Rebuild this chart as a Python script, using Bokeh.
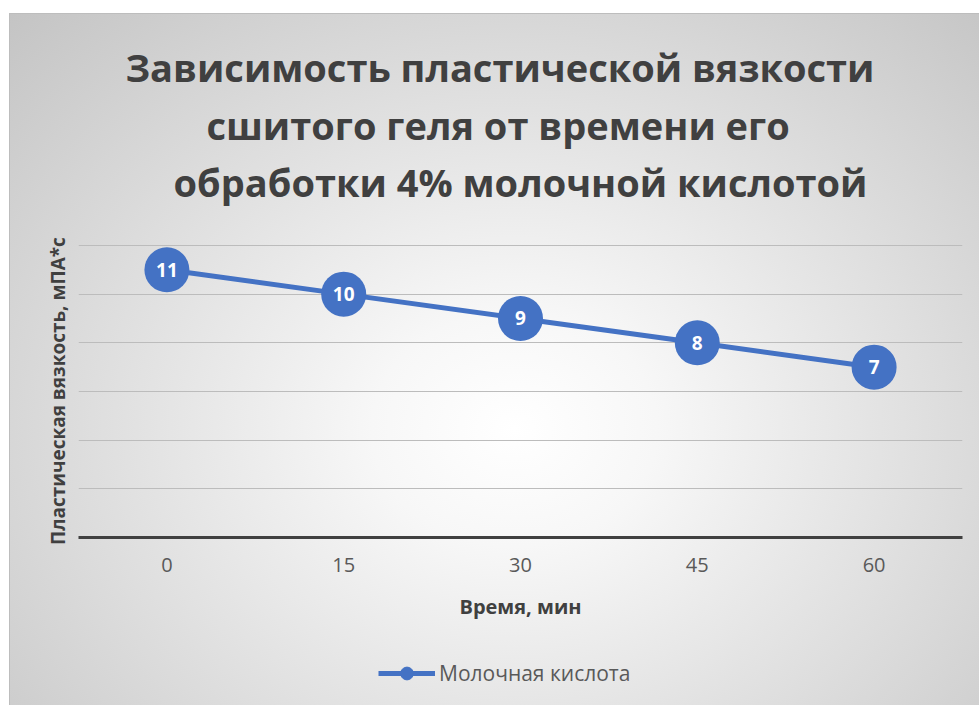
from bokeh.plotting import figure
from bokeh.layouts import column
from bokeh.models import (Range1d, FixedTicker, Title, Legend, LegendItem,
                          ColumnDataSource, LinearAxis)
from bokeh.core.properties import value
from bokeh.embed import file_html
from bokeh.resources import INLINE

# Processing time (min) and plastic viscosity (mPa*s)
minutes = [0, 15, 30, 45, 60]
viscosity = [11, 10, 9, 8, 7]
series_name = "Молочная кислота"
title_lines = [
    "Зависимость пластической вязкости",
    "сшитого геля от времени его",
    "обработки 4% молочной кислотой",
]
title_offsets = [47, 128]   # left indent of the upper title lines, px
x_title = "Время, мин"
y_title = "Пластическая вязкость, мПА*с"
grid_ticks = [0, 2, 4, 6, 8, 10, 12]

BLUE = "#4472C4"
DARK = "#404040"
FONT = "Open Sans"

src = ColumnDataSource(dict(x=minutes, y=viscosity,
                            lbl=[str(v) for v in viscosity]))

# half a step of padding on both sides, like category slots
x_range = Range1d(-7.5, 67.5)
y_range = Range1d(0, 12.04)

p = figure(
    width=970, height=627,
    x_range=x_range, y_range=y_range,
    output_backend="svg", toolbar_location=None, title_location=None,
    min_border_left=68, min_border_right=18,
    min_border_top=230, min_border_bottom=104,
    margin=0,
)
p.border_fill_alpha = 0
p.background_fill_alpha = 0
p.outline_line_color = None

# X axis (bottom)
xa = p.below[0]
xa.ticker = FixedTicker(ticks=minutes)
xa.axis_line_color = DARK
xa.axis_line_width = 3
xa.major_tick_line_color = None
xa.minor_tick_line_color = None
xa.major_label_text_font = FONT
xa.major_label_text_font_size = "20px"
xa.major_label_text_color = "#595959"
xa.major_label_standoff = 14
xa.axis_label = x_title
xa.axis_label_text_font = FONT
xa.axis_label_text_font_size = "20px"
xa.axis_label_text_font_style = "bold"
xa.axis_label_text_color = DARK
xa.axis_label_standoff = 18

# Y axis: title only
ya = p.left[0]
ya.ticker = FixedTicker(ticks=[])
ya.axis_line_color = None
ya.major_tick_line_color = None
ya.minor_tick_line_color = None
ya.major_tick_out = 0
ya.major_label_standoff = 0
ya.axis_label = y_title
ya.axis_label_text_font = FONT
ya.axis_label_text_font_size = "19px"
ya.axis_label_text_font_style = "bold"
ya.axis_label_text_color = DARK
ya.axis_label_standoff = 8

# Last title line: carried by a bare top axis, so that it keeps a gap
# above the plot area
top_axis = LinearAxis(ticker=FixedTicker(ticks=[]),
                      axis_line_color=None, major_tick_line_color=None,
                      minor_tick_line_color=None, major_tick_out=0,
                      major_tick_in=0, minor_tick_out=0, minor_tick_in=0,
                      major_label_standoff=0,
                      axis_label=title_lines[2], axis_label_standoff=37,
                      axis_label_text_font=FONT,
                      axis_label_text_font_size="38px",
                      axis_label_text_font_style="bold",
                      axis_label_text_color=DARK)
p.add_layout(top_axis, "above")

# Upper title lines, stacked upwards
for line, off in reversed(list(zip(title_lines[:2], title_offsets))):
    t = Title(text=line, align="left", offset=off, text_font=FONT,
              text_font_size="38px", text_font_style="bold",
              text_color=DARK, standoff=4)
    p.add_layout(t, "above")

# Grid
p.xgrid.grid_line_color = None
p.ygrid.ticker = FixedTicker(ticks=grid_ticks)
p.ygrid.grid_line_color = "#bcbcbc"
p.ygrid.grid_line_width = 1.2

# Series: line, markers and value labels
p.line("x", "y", source=src, line_color=BLUE, line_width=5)
p.scatter("x", "y", source=src, size=45, fill_color=BLUE, line_color=None)
p.text("x", "y", text="lbl", source=src, text_color="white",
       text_font=value(FONT), text_font_size="19px",
       text_font_style="bold", text_align="center",
       text_baseline="middle")

# Legend strip under the chart (its frame lines up with the chart's)
p_leg = figure(
    width=970, height=65, x_range=x_range, y_range=y_range,
    output_backend="svg", toolbar_location=None, title_location=None,
    x_axis_location=None, y_axis_location=None, min_border=0, margin=0,
)
p_leg.border_fill_alpha = 0
p_leg.background_fill_alpha = 0
p_leg.outline_line_color = None
p_leg.grid.visible = False
leg_line = p_leg.line("x", "y", source=src, line_color=BLUE, line_width=5,
                      visible=False)
leg_dot = p_leg.scatter("x", "y", source=src, size=13, fill_color=BLUE,
                        line_color=BLUE, visible=False)
legend = Legend(
    items=[LegendItem(label=series_name, renderers=[leg_line, leg_dot])],
    location=(300, 17), orientation="horizontal",
    background_fill_alpha=0, border_line_alpha=0,
    glyph_width=57, glyph_height=32, label_standoff=4,
    label_text_font=FONT, label_text_font_size="21px",
    label_text_color="#595959", margin=0, padding=0,
)
p_leg.add_layout(legend, "center")

layout = column(
    p, p_leg, spacing=0, margin=(13, 0, 0, 9),
    styles={
        "background": "radial-gradient(ellipse farthest-corner at 52% 60%, "
                      "#ffffff 0%, #f7f7f7 20%, #c4c4c4 100%)",
        "border-left": "1px solid #bdbdbd",
        "border-top": "1px solid #bdbdbd",
    },
)

open("out.html", "w").write(file_html(layout, INLINE))
